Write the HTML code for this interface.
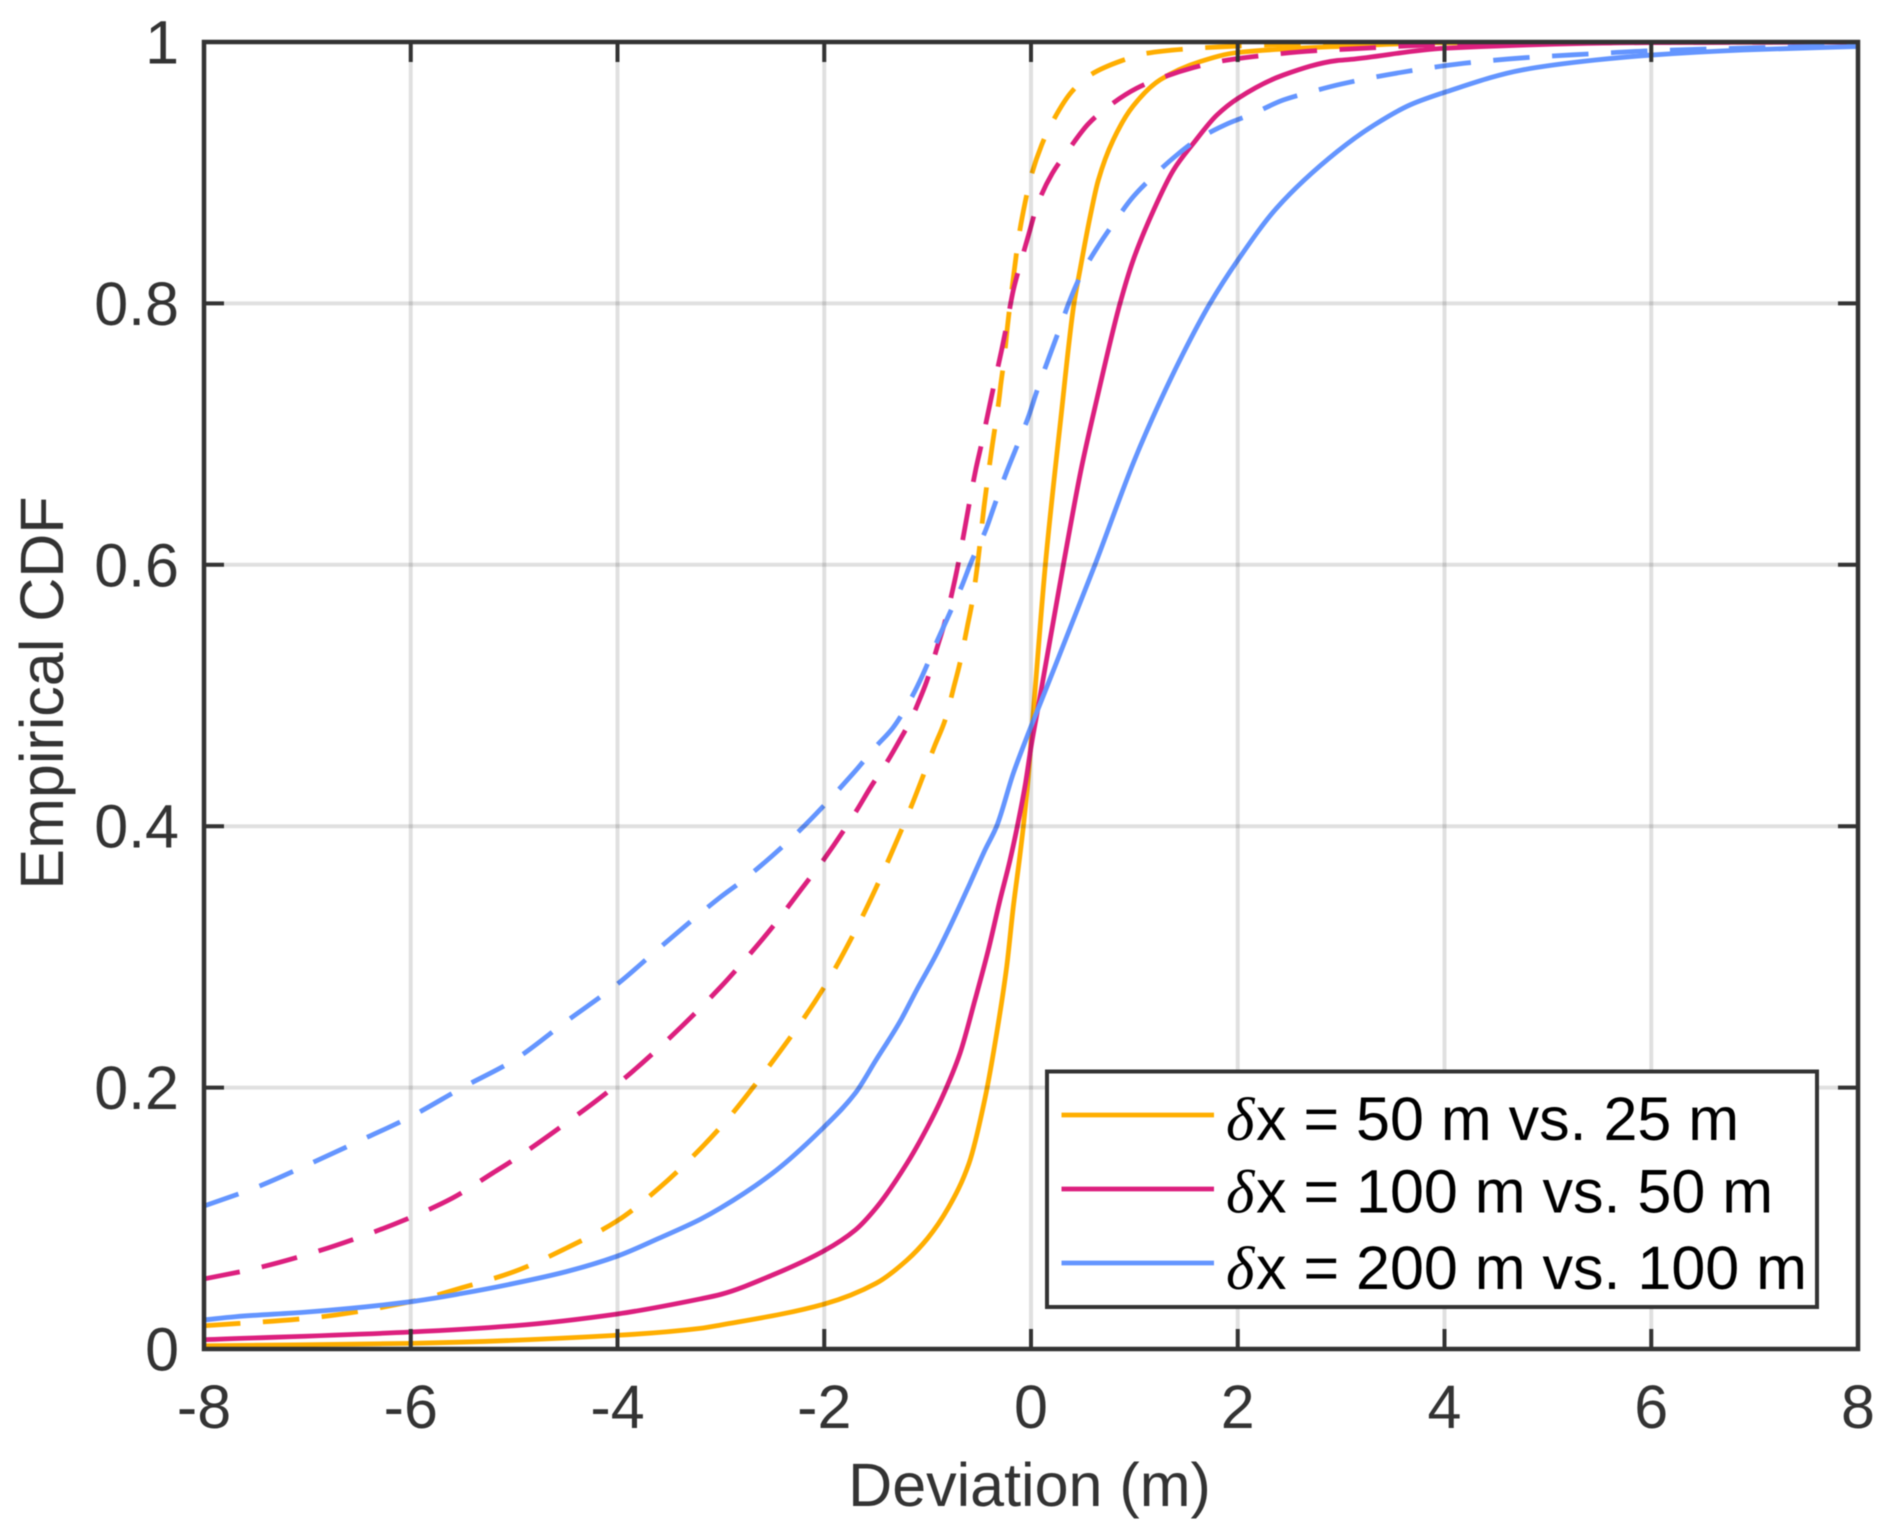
<!DOCTYPE html>
<html lang="en">
<head>
<meta charset="utf-8">
<title>Empirical CDF of Deviation</title>
<style>
html,body{margin:0;padding:0;background:#fff;width:1892px;height:1537px;overflow:hidden}
svg{display:block;filter:blur(0.5px)}
text{font-family:"Liberation Sans",sans-serif}
</style>
</head>
<body>
<svg id="chart" xmlns="http://www.w3.org/2000/svg" width="1892" height="1537" viewBox="0 0 1892 1537">
  <defs><clipPath id="plot-clip"><rect x="204" y="42" width="1654" height="1307"></rect></clipPath></defs>
  <rect x="0" y="0" width="1892" height="1537" fill="#fff"></rect>
  <g id="series-layer" clip-path="url(#plot-clip)"></g>
  <g id="grid-layer"></g>
  <g id="tick-layer"></g>
  <rect x="204" y="42" width="1654" height="1307" fill="none" stroke="#333" stroke-width="4.5"></rect>
  <text x="1029.5" y="1506" text-anchor="middle" font-size="61" fill="#333">Deviation (m)</text>
  <text transform="translate(63,693) rotate(-90)" text-anchor="middle" font-size="61" fill="#333">Empirical CDF</text>
  <g>
    <rect x="1047" y="1071.5" width="770" height="235.5" fill="#fff" stroke="#333" stroke-width="4"></rect>
    <line x1="1061.5" x2="1214" y1="1115" y2="1115" stroke="#FFAE00" stroke-width="4.8"></line>
    <line x1="1061.5" x2="1214" y1="1189" y2="1189" stroke="#DC1F7E" stroke-width="4.8"></line>
    <line x1="1061.5" x2="1214" y1="1263" y2="1263" stroke="#6495FF" stroke-width="4.8"></line>
    <text y="1140" font-size="61" fill="#000"><tspan x="1226" font-family="Liberation Serif" font-style="italic">δ</tspan><tspan x="1256">x = 50 m vs. 25 m</tspan></text>
    <text y="1212.5" font-size="61" fill="#000"><tspan x="1226" font-family="Liberation Serif" font-style="italic">δ</tspan><tspan x="1256">x = 100 m vs. 50 m</tspan></text>
    <text y="1289" font-size="61" fill="#000"><tspan x="1226" font-family="Liberation Serif" font-style="italic">δ</tspan><tspan x="1256">x = 200 m vs. 100 m</tspan></text>
  </g>
</svg>
<script>
// Tick values and labels
const xTicks = [-8, -6, -4, -2, 0, 2, 4, 6, 8];
const xTickLabels = ['-8', '-6', '-4', '-2', '0', '2', '4', '6', '8'];
const yTicks = [0, 0.2, 0.4, 0.6, 0.8, 1];
const yTickLabels = ['0', '0.2', '0.4', '0.6', '0.8', '1'];

// δx = 50 m vs. 25 m, solid
const solid50X = [-8, -6, -4, -3.2, -3, -2, -1.5, -1.2, -1, -0.8, -0.6, -0.445, -0.332, -0.235, -0.171, -0.113, -0.074, -0.026, 0.006, 0.032, 0.139, 0.287, 0.416, 0.474, 0.571, 0.65, 0.795, 0.988, 1.248, 1.635, 2, 3.09, 4, 8];
const solid50Y = [0.0025, 0.0043, 0.0105, 0.0158, 0.0184, 0.0344, 0.0502, 0.068, 0.0847, 0.108, 0.142, 0.1918, 0.2415, 0.2925, 0.3384, 0.374, 0.4, 0.4379, 0.471, 0.4966, 0.6, 0.711, 0.8, 0.8256, 0.866, 0.894, 0.925, 0.951, 0.971, 0.985, 0.992, 0.997, 0.9995, 1];

// δx = 100 m vs. 50 m, solid
const solid100X = [-8, -6, -5, -4, -3.2, -3, -2.5, -2, -1.7, -1.5, -1.2, -1, -0.864, -0.687, -0.542, -0.413, -0.3, -0.203, -0.132, -0.058, 0.006, 0.07, 0.313, 0.49, 0.635, 0.861, 0.988, 1.184, 1.378, 1.571, 1.797, 2, 2.44, 2.96, 3.09, 4, 6, 8];
const solid100Y = [0.0071, 0.013, 0.0178, 0.0268, 0.0383, 0.0418, 0.0566, 0.0752, 0.091, 0.1078, 0.142, 0.17, 0.1918, 0.2262, 0.267, 0.3053, 0.3435, 0.374, 0.4, 0.4305, 0.4634, 0.4914, 0.6, 0.675, 0.726, 0.8, 0.833, 0.871, 0.902, 0.9225, 0.944, 0.9568, 0.9747, 0.9858, 0.9867, 0.9952, 0.9995, 1];

// δx = 200 m vs. 100 m, solid
const solid200X = [-8, -7.7, -7, -6, -5.5, -5, -4.5, -4, -3.6, -3.2, -3, -2.5, -2, -1.7, -1.5, -1.268, -1.106, -0.929, -0.784, -0.59, -0.445, -0.332, -0.171, -0.026, 0.103, 0.619, 0.99, 1.168, 1.474, 1.732, 2, 2.377, 2.96, 3.32, 3.67, 4.02, 4.75, 5.46, 6, 6.89, 8];
const solid200Y = [0.0222, 0.0247, 0.0283, 0.0362, 0.0426, 0.0502, 0.0591, 0.0711, 0.0847, 0.0992, 0.108, 0.1345, 0.17, 0.1957, 0.221, 0.2504, 0.2747, 0.3, 0.3231, 0.3563, 0.3818, 0.4, 0.4405, 0.471, 0.4966, 0.6, 0.678, 0.711, 0.762, 0.8, 0.833, 0.873, 0.916, 0.9365, 0.952, 0.962, 0.9786, 0.9862, 0.99, 0.9939, 0.9966];

// δx = 50 m vs. 25 m, dashed
const dashed50X = [-8, -7, -6, -5.5, -5, -4.5, -4, -3.6, -3, -2.5, -2, -1.7, -1.51, -1.27, -1.139, -0.929, -0.832, -0.745, -0.687, -0.616, -0.568, -0.52, -0.455, -0.423, -0.374, -0.31, -0.293, -0.261, -0.226, -0.155, -0.123, -0.058, 0, 0.103, 0.2, 0.394, 0.571, 0.877, 1.12, 1.47, 2, 3, 8];
const dashed50Y = [0.0178, 0.0235, 0.0362, 0.047, 0.0592, 0.077, 0.0982, 0.123, 0.17, 0.22, 0.277, 0.32, 0.351, 0.394, 0.419, 0.462, 0.481, 0.507, 0.525, 0.5527, 0.572, 0.5986, 0.644, 0.6636, 0.6917, 0.726, 0.7376, 0.7567, 0.7835, 0.8294, 0.8485, 0.8768, 0.897, 0.9212, 0.9378, 0.962, 0.9747, 0.9857, 0.9914, 0.9945, 0.9969, 0.999, 1];

// δx = 100 m vs. 50 m, dashed
const dashed100X = [-8, -7.5, -7, -6.5, -6, -5.6, -5.2, -5, -4.5, -4, -3.5, -3, -2.7, -2.5, -2.22, -2, -1.687, -1.558, -1.371, -1.251, -1.17, -1.096, -1.01, -0.906, -0.832, -0.752, -0.703, -0.639, -0.597, -0.532, -0.477, -0.406, -0.355, -0.284, -0.235, -0.171, -0.106, -0.01, 0.055, 0.206, 0.339, 0.554, 0.726, 1.022, 1.248, 1.571, 1.812, 2.15, 2.73, 3.09, 4, 6, 8];
const dashed100Y = [0.0536, 0.0617, 0.0724, 0.0854, 0.1007, 0.1153, 0.135, 0.145, 0.1727, 0.2027, 0.2377, 0.2772, 0.304, 0.323, 0.352, 0.375, 0.412, 0.429, 0.452, 0.4685, 0.48, 0.4935, 0.5106, 0.5373, 0.5565, 0.5828, 0.6012, 0.6284, 0.647, 0.6738, 0.693, 0.7197, 0.7388, 0.7643, 0.7835, 0.8102, 0.8294, 0.8562, 0.874, 0.8995, 0.9148, 0.9373, 0.9493, 0.9646, 0.9722, 0.9804, 0.985, 0.9888, 0.9932, 0.9947, 0.998, 0.9995, 1];

// δx = 200 m vs. 100 m, dashed
const dashed200X = [-8, -7.5, -7, -6.5, -6, -5.5, -5, -4.5, -4, -3.6, -3, -2.78, -2.3, -1.719, -1.493, -1.338, -1.148, -1.048, -0.906, -0.816, -0.665, -0.583, -0.435, -0.358, -0.235, -0.148, -0.019, 0.055, 0.174, 0.255, 0.377, 0.468, 0.651, 0.781, 0.99, 1.151, 1.41, 1.603, 1.91, 2.135, 2.44, 2.68, 3, 3.6, 4.19, 4.78, 5.39, 6, 7.18, 8];
const dashed200Y = [0.1094, 0.1235, 0.1408, 0.1591, 0.1778, 0.2, 0.2211, 0.2504, 0.2793, 0.3065, 0.346, 0.359, 0.392, 0.4405, 0.4616, 0.475, 0.4996, 0.5157, 0.542, 0.5578, 0.5846, 0.6012, 0.6272, 0.6445, 0.6713, 0.6884, 0.7146, 0.7325, 0.7587, 0.776, 0.8026, 0.8192, 0.844, 0.8592, 0.8817, 0.8949, 0.9135, 0.925, 0.9378, 0.9447, 0.9556, 0.9612, 0.9678, 0.977, 0.9837, 0.988, 0.9908, 0.9933, 0.9959, 0.9975];

const SVG_NS = 'http://www.w3.org/2000/svg';
const plotLeft = 204, plotRight = 1858, plotTop = 42, plotBottom = 1349;
const xMin = -8, xMax = 8, yMin = 0, yMax = 1;
function scaleX(v) { return plotLeft + (v - xMin) / (xMax - xMin) * (plotRight - plotLeft); }
function scaleY(v) { return plotBottom - (v - yMin) / (yMax - yMin) * (plotBottom - plotTop); }

// Monotone cubic path through the data points (scaled through the axis functions)
function curvePath(xs, ys) {
  const px = xs.map(scaleX), py = ys.map(scaleY), n = px.length;
  const slopes = [];
  for (let i = 0; i < n - 1; i++) slopes.push((py[i + 1] - py[i]) / (px[i + 1] - px[i]));
  const tan = [slopes[0]];
  for (let i = 1; i < n - 1; i++) {
    const a = slopes[i - 1], b = slopes[i];
    const w1 = 2 * (px[i + 1] - px[i]) + (px[i] - px[i - 1]);
    const w2 = (px[i + 1] - px[i]) + 2 * (px[i] - px[i - 1]);
    tan.push(a * b <= 0 ? 0 : (w1 + w2) / (w1 / a + w2 / b));
  }
  tan.push(slopes[n - 2]);
  let d = 'M' + px[0].toFixed(2) + ' ' + py[0].toFixed(2);
  for (let i = 0; i < n - 1; i++) {
    const h = (px[i + 1] - px[i]) / 3;
    d += ' C' + (px[i] + h).toFixed(2) + ' ' + (py[i] + tan[i] * h).toFixed(2) + ' ' +
      (px[i + 1] - h).toFixed(2) + ' ' + (py[i + 1] - tan[i + 1] * h).toFixed(2) + ' ' +
      px[i + 1].toFixed(2) + ' ' + py[i + 1].toFixed(2);
  }
  return d;
}

function drawSeries(xs, ys, color, dashed, name) {
  const el = document.createElementNS(SVG_NS, 'path');
  
  
  el.setAttribute('d', curvePath(xs, ys));
  el.setAttribute('fill', 'none');
  el.setAttribute('stroke', color);
  el.setAttribute('stroke-width', '4.8');
  el.setAttribute('stroke-linejoin', 'round');
  if (dashed) el.setAttribute('stroke-dasharray', '36.5 22.5');
  document.getElementById('series-layer').appendChild(el);
}

function addLine(layer, x1, y1, x2, y2, color, width, name) {
  const el = document.createElementNS(SVG_NS, 'line');
  
  
  el.setAttribute('x1', x1);
  el.setAttribute('y1', y1);
  el.setAttribute('x2', x2);
  el.setAttribute('y2', y2);
  el.setAttribute('stroke', color);
  el.setAttribute('stroke-width', width);
  layer.appendChild(el);
}

function addLabel(x, y, anchor, label, name) {
  const el = document.createElementNS(SVG_NS, 'text');
  
  
  el.setAttribute('x', x);
  el.setAttribute('y', y);
  el.setAttribute('text-anchor', anchor);
  el.setAttribute('font-size', '61');
  el.setAttribute('fill', '#333');
  el.textContent = label;
  document.getElementById('tick-layer').appendChild(el);
}

drawSeries(dashed50X, dashed50Y, '#FFAE00', true, 'line-50m-dashed');
drawSeries(solid50X, solid50Y, '#FFAE00', false, 'line-50m-solid');
drawSeries(dashed100X, dashed100Y, '#DC1F7E', true, 'line-100m-dashed');
drawSeries(solid100X, solid100Y, '#DC1F7E', false, 'line-100m-solid');
drawSeries(dashed200X, dashed200Y, '#6495FF', true, 'line-200m-dashed');
drawSeries(solid200X, solid200Y, '#6495FF', false, 'line-200m-solid');

const gridLayer = document.getElementById('grid-layer');
const tickLayer = document.getElementById('tick-layer');
const gridColor = 'rgba(0,0,0,0.12)';
const tickLen = 20;

xTicks.forEach((v, i) => {
  const x = scaleX(v);
  if (i > 0 && i < xTicks.length - 1) {
    addLine(gridLayer, x, plotTop, x, plotBottom, gridColor, 4, 'x-gridline');
    addLine(tickLayer, x, plotBottom, x, plotBottom - tickLen, '#333', 4, 'x-tick-bottom');
    addLine(tickLayer, x, plotTop, x, plotTop + tickLen, '#333', 4, 'x-tick-top');
  }
  addLabel(x, 1428, 'middle', xTickLabels[i], 'x-tick-label');
});

yTicks.forEach((v, i) => {
  const y = scaleY(v);
  if (i > 0 && i < yTicks.length - 1) {
    addLine(gridLayer, plotLeft, y, plotRight, y, gridColor, 4, 'y-gridline');
    addLine(tickLayer, plotLeft, y, plotLeft + tickLen, y, '#333', 4, 'y-tick-left');
    addLine(tickLayer, plotRight, y, plotRight - tickLen, y, '#333', 4, 'y-tick-right');
  }
  addLabel(179, y + 21.5, 'end', yTickLabels[i], 'y-tick-label');
});
</script>
</body>
</html>
